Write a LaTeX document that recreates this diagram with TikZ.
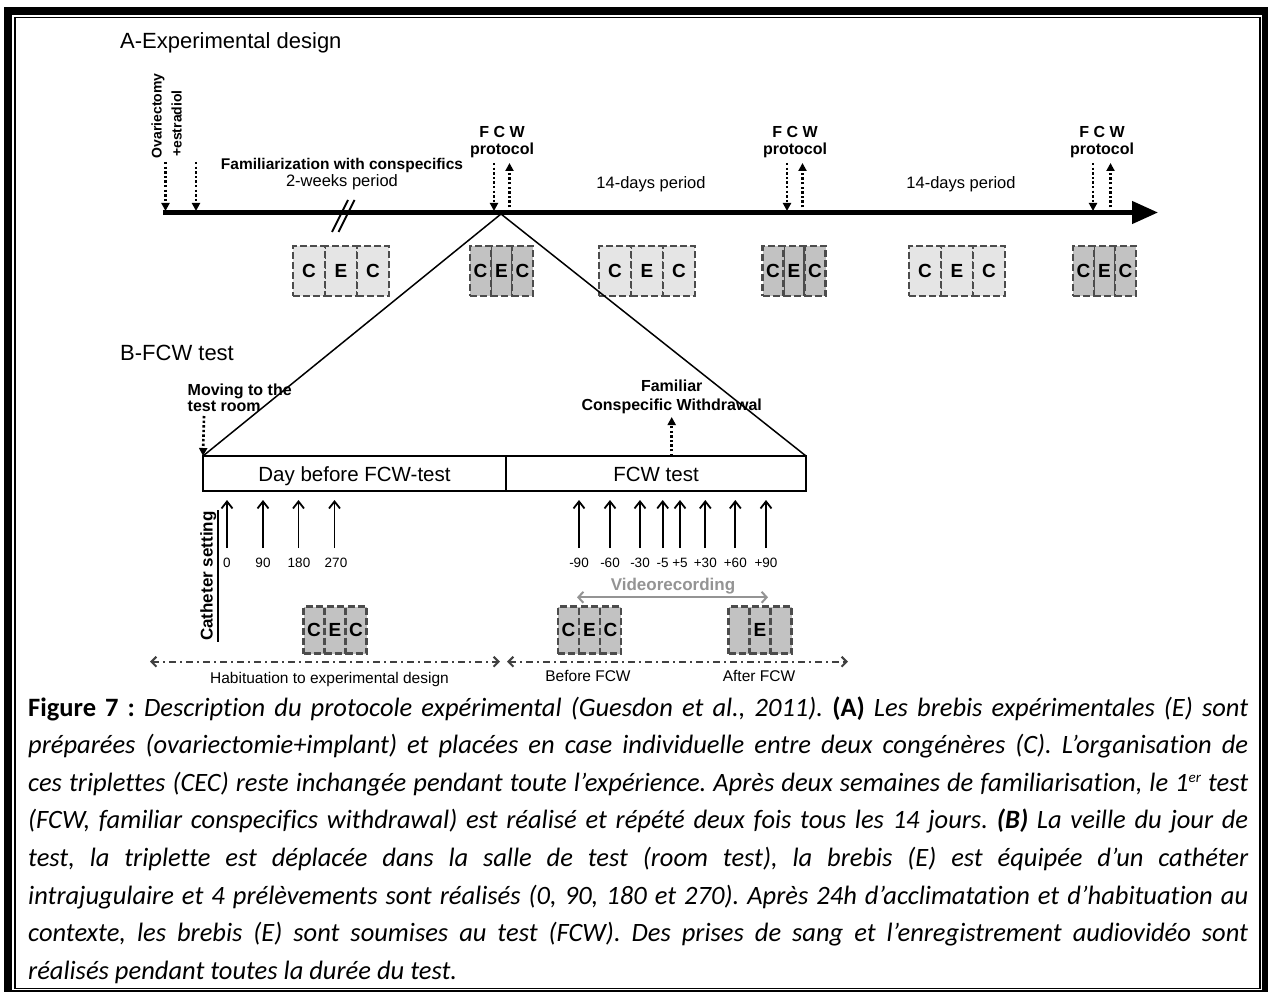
\documentclass[tikz,border=0pt]{standalone}
\usepackage{fontspec}
\setmainfont{Liberation Sans}
\newfontfamily\capfont[Ligatures=NoCommon]{Carlito}
\usetikzlibrary{arrows.meta}
\frenchspacing
\definecolor{cellD}{gray}{0.76}
\definecolor{cellL}{gray}{0.90}
\definecolor{celledge}{gray}{0.30}
\definecolor{vidgray}{gray}{0.58}
\definecolor{dashgray}{gray}{0.25}
\tikzset{
  lbl/.style={inner sep=0pt, anchor=base},
  bl/.style={lbl, font=\bfseries\fontsize{16}{18}\selectfont},
  title/.style={inner sep=0pt, anchor=base west, font=\fontsize{22}{24}\selectfont},
  per/.style={lbl, font=\fontsize{16.5}{18}\selectfont},
  num/.style={lbl, font=\fontsize{13.5}{15}\selectfont},
  dotarrow/.style={line width=2.6pt, dash pattern=on 2.4pt off 2.2pt, -{Triangle[length=8pt,width=8pt]}},
  cell/.style={draw=celledge, line width=2.3pt, dash pattern=on 7pt off 3pt, inner sep=0pt, outer sep=0pt, font=\bfseries\fontsize{19}{20}\selectfont},
  samp/.style={line width=1.8pt, -{Straight Barb[length=7pt,width=11pt]}},
  dashdot/.style={draw=dashgray, line width=2pt, dash pattern=on 7pt off 4pt on 2pt off 4pt, {Straight Barb[length=5pt,width=10pt]}-{Straight Barb[length=5pt,width=10pt]}},
  bbox/.style={draw, line width=2.5pt, inner sep=0pt, outer sep=0pt, minimum height=35pt, anchor=north west},
  capl/.style={inner sep=0pt, anchor=base west, font=\capfont\itshape\fontsize{26.5}{30}\selectfont},
}
\newcommand\cectrip[9]{%
  \node[cell, fill=#6, minimum width=#4, minimum height=#5] (#1m) at (#2,#3) {#8};
  \node[cell, fill=#6, minimum width=#4, minimum height=#5, anchor=east] (#1l) at (#1m.west) {#7};
  \node[cell, fill=#6, minimum width=#4, minimum height=#5, anchor=west] (#1r) at (#1m.east) {#9};
}
\newcommand\capline[1]{\makebox[1220pt][s]{#1}}
\newcommand\supr[1]{\raisebox{9pt}{\fontsize{15}{15}\selectfont #1}}
\begin{document}
\begin{tikzpicture}[x=1pt,y=-1pt]
\useasboundingbox (0,0) rectangle (1268,992);
% frame
\fill[black] (4,7) rectangle (1268,992);
\fill[white] (12,15) rectangle (1262,990);
\draw[line width=1.5pt] (14.75,17.75) rectangle (1259.75,988.25);

% ---------- A ----------
\node[title] (tA) at (120,49) {A-Experimental design};
\coordinate (tl0) at (163,212.5);
\coordinate (tl1) at (1158,212.5);
\draw[line width=4.5pt, -{Triangle[length=26pt,width=22pt]}] (tl0) -- (tl1);

\node[inner sep=0pt, anchor=base west, rotate=90, font=\bfseries\fontsize{14}{16}\selectfont] (ov) at (161.7,158.5) {Ovariectomy};
\node[inner sep=0pt, anchor=base west, rotate=90, font=\bfseries\fontsize{14}{16}\selectfont] (es) at (181.5,157) {+estradiol};
\coordinate (o1t) at (165.5,162); \coordinate (o1b) at (165.5,211);
\coordinate (o2t) at (196,162); \coordinate (o2b) at (196,211);
\draw[dotarrow] (o1t) -- (o1b);
\draw[dotarrow] (o2t) -- (o2b);

\node[lbl, font=\bfseries\fontsize{15.5}{17}\selectfont] (fam) at (342,169.3) {Familiarization with conspecifics};
\node[per] (p2w) at (342,187) {2-weeks period};
\coordinate (br1a) at (332,232); \coordinate (br1b) at (348,200);
\coordinate (br2a) at (338.5,232); \coordinate (br2b) at (354.5,200);
\draw[line width=2pt] (br1a) -- (br1b);
\draw[line width=2pt] (br2a) -- (br2b);

\foreach \n/\x in {1/502,2/795,3/1102}{
  \node[bl] (fcw\n) at (\x,137.3) {F C W};
  \node[bl] (prot\n) at (\x,155) {protocol};
}
\foreach \n/\xd/\xu in {1/494/509.5,2/787/802.5,3/1093/1110.5}{
  \coordinate (d\n t) at (\xd,163); \coordinate (d\n b) at (\xd,211);
  \coordinate (u\n b) at (\xu,212); \coordinate (u\n t) at (\xu,163);
  \draw[dotarrow] (d\n t) -- (d\n b);
  \draw[dotarrow] (u\n b) -- (u\n t);
}
\node[per] (p14a) at (651,189) {14-days period};
\node[per] (p14b) at (961,189) {14-days period};

% row A triplets
\cectrip{ra1}{341}{271}{32}{50}{cellL}{C}{E}{C}
\cectrip{ra2}{501.5}{271}{21}{50}{cellD}{C}{E}{C}
\cectrip{ra3}{647}{271}{32}{50}{cellL}{C}{E}{C}
\cectrip{ra4}{794}{271}{21}{50}{cellD}{C}{E}{C}
\cectrip{ra5}{957}{271}{32}{50}{cellL}{C}{E}{C}
\cectrip{ra6}{1104.5}{271}{21}{50}{cellD}{C}{E}{C}

% ---------- B ----------
\node[title] (tB) at (120,360.7) {B-FCW test};
\node[bbox, minimum width=303pt] (day) at (203,456) {};
\node[bbox, minimum width=300pt] (fcwb) at (506,456) {};
\node[lbl, font=\fontsize{20.5}{22}\selectfont] (dayt) at (354.5,481.5) {Day before FCW-test};
\node[lbl, font=\fontsize{20.5}{22}\selectfont] (fcwt) at (656,481.5) {FCW test};

\coordinate (apex) at (501,214);
\draw[line width=1.5pt] (apex) -- (day.north west);
\draw[line width=1.5pt] (apex) -- (fcwb.north east);

\node[inner sep=0pt, anchor=base west, font=\bfseries\fontsize{16}{18}\selectfont] (mov1) at (187.5,395.7) {Moving to the};
\node[inner sep=0pt, anchor=base west, font=\bfseries\fontsize{16}{18}\selectfont] (mov2) at (187.5,411) {test room};
\coordinate (mvt) at (204,416);
\draw[dotarrow] (mvt) -- (day.north west);

\node[bl] (fam1) at (671.7,391.7) {Familiar};
\node[bl] (fam2) at (671.7,410.7) {Conspecific Withdrawal};
\coordinate (fwb) at (671.7,456); \coordinate (fwt) at (671.7,417);
\draw[dotarrow] (fwb) -- (fwt);

% samples day before
\foreach \x/\t/\n in {227/0/a,263/90/b,298.5/180/c,334.5/270/d}{
  \coordinate (sb\n) at (\x,548); \coordinate (st\n) at (\x,500);
  \draw[samp] (sb\n) -- (st\n);
}
\node[num] (na) at (227,567.3) {0};
\node[num] (nb) at (263,567.3) {90};
\node[num] (nc) at (299,567.3) {180};
\node[num] (nd) at (336,567.3) {270};
% samples FCW day
\foreach \x/\t/\n in {579/-90/e,610/-60/f,640/-30/g,662.7/-5/h,680/+5/i,705.3/+30/j,735.3/+60/k,766/+90/l}{
  \coordinate (sb\n) at (\x,548); \coordinate (st\n) at (\x,500);
  \draw[samp] (sb\n) -- (st\n);
  \node[num] (n\n) at (\x,567.3) {\t};
}

% catheter
\node[inner sep=0pt, anchor=base west, rotate=90, font=\bfseries\fontsize{17}{19}\selectfont] (cath) at (212.5,641) {Catheter setting};
\coordinate (cl1) at (217.7,510); \coordinate (cl2) at (217.7,642);
\draw[line width=2pt] (cl1) -- (cl2);

% videorecording
\node[lbl, text=vidgray, font=\bfseries\fontsize{17}{19}\selectfont] (vid) at (673,590.7) {Videorecording};
\coordinate (v1) at (577,597.3); \coordinate (v2) at (768,597.3);
\draw[draw=vidgray, line width=2pt, {Straight Barb[length=5pt,width=11pt]}-{Straight Barb[length=5pt,width=11pt]}] (v1) -- (v2);

% row B triplets
\cectrip{rb1}{335}{630}{21}{47}{cellD}{C}{E}{C}
\cectrip{rb2}{589.5}{630}{21}{47}{cellD}{C}{E}{C}
\cectrip{rb3}{760}{630}{21}{47}{cellD}{}{E}{}

% dash-dot periods
\coordinate (h1) at (150,661.7); \coordinate (h2) at (500,661.7);
\coordinate (h3) at (507,661.7); \coordinate (h4) at (848,661.7);
\draw[dashdot] (h1) -- (h2);
\draw[dashdot] (h3) -- (h4);
\node[lbl, font=\fontsize{15.5}{17}\selectfont] (hab) at (329.5,683.3) {Habituation to experimental design};
\node[lbl, font=\fontsize{15.5}{17}\selectfont] (bef) at (588,681.7) {Before FCW};
\node[lbl, font=\fontsize{15.5}{17}\selectfont] (aft) at (759,681.7) {After FCW};

% ---------- caption ----------
\node[capl] (c1) at (28,716) {\capline{{\upshape\bfseries Figure 7 :} Description du protocole expérimental (Guesdon et al., 2011). {\upshape\bfseries (A)} Les brebis expérimentales (E) sont}};
\node[capl] (c2) at (28,753.6) {\capline{préparées (ovariectomie+implant) et placées en case individuelle entre deux congénères (C). L’organisation de}};
\node[capl] (c3) at (28,791.2) {\capline{ces triplettes (CEC) reste inchangée pendant toute l’expérience. Après deux semaines de familiarisation, le 1\supr{er} test}};
\node[capl] (c4) at (28,828.8) {\capline{(FCW, familiar conspecifics withdrawal) est réalisé et répété deux fois tous les 14 jours. {\bfseries (B)} La veille du jour de}};
\node[capl] (c5) at (28,866.4) {\capline{test, la triplette est déplacée dans la salle de test (room test), la brebis (E) est équipée d’un cathéter}};
\node[capl] (c6) at (28,904) {\capline{intrajugulaire et 4 prélèvements sont réalisés (0, 90, 180 et 270). Après 24h d’acclimatation et d’habituation au}};
\node[capl] (c7) at (28,941.6) {\capline{contexte, les brebis (E) sont soumises au test (FCW). Des prises de sang et l’enregistrement audiovidéo sont}};
\node[capl] (c8) at (28,979.2) {réalisés pendant toutes la durée du test.};
\end{tikzpicture}
\end{document}
